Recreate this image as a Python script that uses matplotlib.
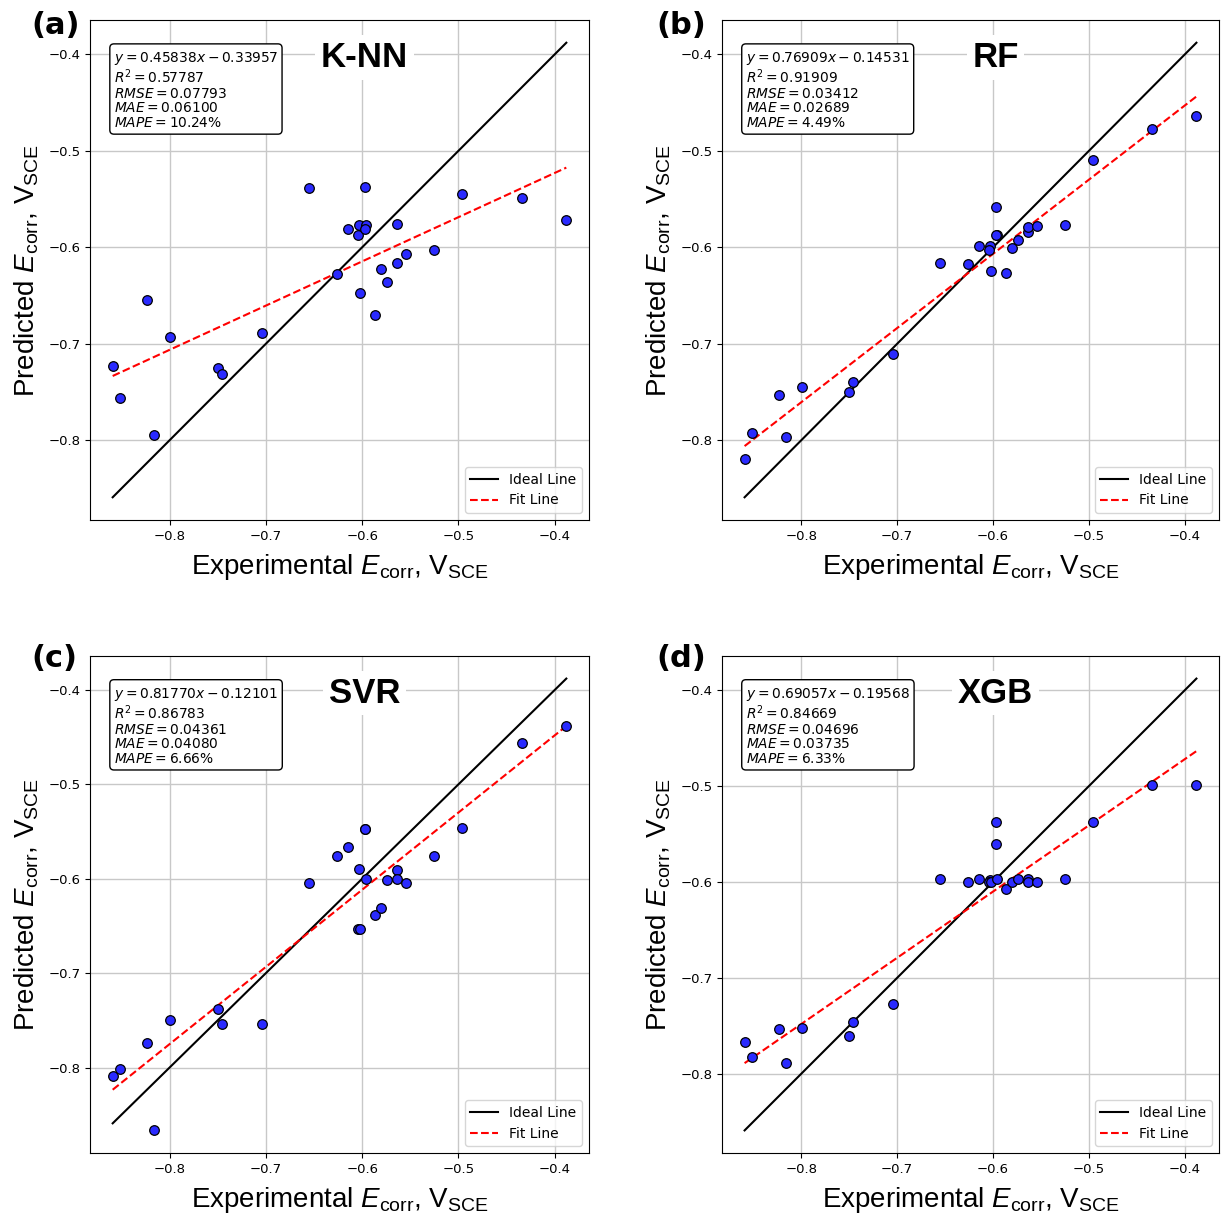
import numpy as np
import matplotlib
matplotlib.use("Agg")
import matplotlib.pyplot as plt

plt.rcParams['mathtext.fontset'] = 'custom'
plt.rcParams['mathtext.rm'] = 'Liberation Sans'
plt.rcParams['mathtext.it'] = 'Liberation Sans:italic'
plt.rcParams['mathtext.bf'] = 'Liberation Sans:bold'

# ---- data ----
experimental = [-0.859, -0.851, -0.823, -0.816, -0.799, -0.750, -0.746, -0.704, -0.655,
                -0.626, -0.615, -0.603, -0.604, -0.602, -0.597, -0.596, -0.597, -0.587,
                -0.580, -0.574, -0.564, -0.564, -0.554, -0.525, -0.496, -0.434, -0.388]

pred_knn = [-0.7225, -0.7563, -0.655, -0.794, -0.6933, -0.7246, -0.7312, -0.6884, -0.5386,
            -0.6281, -0.5808, -0.5773, -0.5877, -0.6476, -0.5379, -0.5773, -0.5808, -0.6706,
            -0.6229, -0.6362, -0.616, -0.5759, -0.6065, -0.6024, -0.5452, -0.5491, -0.5721]

pred_rf = [-0.819, -0.7922, -0.7535, -0.7967, -0.7448, -0.7494, -0.7396, -0.7103, -0.6163,
           -0.617, -0.5982, -0.5982, -0.6031, -0.625, -0.5581, -0.5874, -0.5874, -0.6271,
           -0.601, -0.5919, -0.5843, -0.5787, -0.5783, -0.5773, -0.509, -0.477, -0.4641]

pred_svr = [-0.8085, -0.8011, -0.7738, -0.8665, -0.7494, -0.7384, -0.7536, -0.7536, -0.6046,
            -0.576, -0.566, -0.5897, -0.6527, -0.6527, -0.5476, -0.6004, -0.5476, -0.6379,
            -0.6312, -0.6014, -0.5912, -0.6007, -0.6046, -0.5756, -0.5462, -0.4563, -0.4386]

pred_xgb = [-0.767, -0.7823, -0.7534, -0.7889, -0.7527, -0.7603, -0.7464, -0.7277, -0.5969,
            -0.5997, -0.5969, -0.598, -0.5997, -0.5997, -0.5374, -0.5969, -0.5603, -0.6077,
            -0.5997, -0.5969, -0.597, -0.5997, -0.5997, -0.5969, -0.5374, -0.4988, -0.4988]

model_names = ["K-NN", "RF", "SVR", "XGB"]
panel_tags = ["(a)", "(b)", "(c)", "(d)"]
slopes = [0.45838, 0.76909, 0.81770, 0.69057]
intercepts = [-0.33957, -0.14531, -0.12101, -0.19568]
r2 = ["0.57787", "0.91909", "0.86783", "0.84669"]
rmse = ["0.07793", "0.03412", "0.04361", "0.04696"]
mae = ["0.06100", "0.02689", "0.04080", "0.03735"]
mape = ["10.24", "4.49", "6.66", "6.33"]
predictions = [pred_knn, pred_rf, pred_svr, pred_xgb]

# ---- layout ----
W, H = 1221, 1217
fig = plt.figure(figsize=(W / 100, H / 100), dpi=100)
boxes = [(90, 20, 589, 520), (722, 20, 1219, 520), (90, 656, 589, 1153), (722, 656, 1219, 1153)]
tag_pos = [(31, 11), (656, 11), (31, 644), (656, 644)]

x = np.array(experimental)
for i in range(4):
    l, t, r, b = boxes[i]
    ax = fig.add_axes([l / W, 1 - b / H, (r - l) / W, (b - t) / H])
    y = np.array(predictions[i])
    ax.scatter(x, y, s=48, color='#2a2aff', edgecolors='black', linewidths=0.9, zorder=3)
    xr = np.array([x.min(), x.max()])
    ax.plot(xr, xr, color='black', lw=1.5, label='Ideal Line', zorder=2)
    ax.plot(xr, slopes[i] * xr + intercepts[i], color='red', ls='--', lw=1.5,
            label='Fit Line', zorder=2)
    ax.grid(True, color='#c8c8c8', lw=1.0)
    ax.set_axisbelow(True)
    ax.set_xticks([-0.8, -0.7, -0.6, -0.5, -0.4])
    ax.set_yticks([-0.8, -0.7, -0.6, -0.5, -0.4])
    ax.tick_params(labelsize=9.5)
    ax.set_xlabel(r"Experimental $E_{\mathrm{corr}}$, V$_{\mathrm{SCE}}$", fontsize=20,
                  family='Liberation Sans', labelpad=7)
    ax.set_ylabel(r"Predicted $E_{\mathrm{corr}}$, V$_{\mathrm{SCE}}$", fontsize=20,
                  family='Liberation Sans', labelpad=5)
    sign = '-' if intercepts[i] < 0 else '+'
    txt = (rf"$y = {slopes[i]:.5f}x {sign} {abs(intercepts[i]):.5f}$" + "\n"
           + rf"$R^2 = {r2[i]}$" + "\n"
           + rf"$RMSE = {rmse[i]}$" + "\n"
           + rf"$MAE = {mae[i]}$" + "\n"
           + rf"$MAPE = {mape[i]}\%$")
    ax.text(0.048, 0.94, txt, transform=ax.transAxes, fontsize=9.9, va='top', ha='left',
            math_fontfamily='dejavusans', linespacing=1.05,
            bbox=dict(boxstyle='round,pad=0.3', fc='white', ec='black', lw=1.0), zorder=5)
    ax.text(0.55, 0.925, model_names[i], transform=ax.transAxes, fontsize=25,
            fontweight='bold', family='Liberation Sans', ha='center', va='center',
            bbox=dict(fc='white', ec='none', pad=4), zorder=4)
    ax.legend(loc='lower right', fontsize=10)
    tx, ty = tag_pos[i]
    fig.text(tx / W, 1 - ty / H, panel_tags[i], fontsize=22, fontweight='bold',
             ha='left', va='top')

fig.savefig("out.png", dpi=100)
